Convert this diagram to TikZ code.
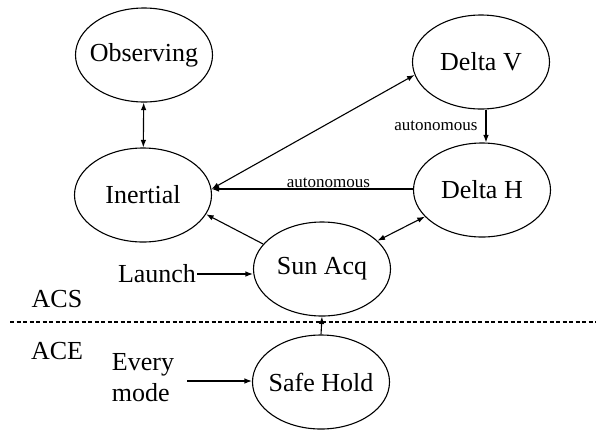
\documentclass[tikz,border=0pt]{standalone}
\usepackage{fontspec}
\setmainfont{Liberation Serif}
\usetikzlibrary{shapes.geometric,arrows.meta}
\begin{document}
\begin{tikzpicture}[x=1pt,y=-1pt,
  state/.style={ellipse, draw, line width=1.1pt, minimum width=137pt, minimum height=94pt, inner sep=0pt,
    font=\fontsize{26}{30}\selectfont},
  conn/.style={line width=1.1pt, -{Latex[length=7.5pt,width=5.5pt]}},
  dconn/.style={line width=1.1pt, {Latex[length=7.5pt,width=5.5pt]}-{Latex[length=7.5pt,width=5.5pt]}},
  lbl/.style={font=\fontsize{26}{31}\selectfont, inner sep=1pt},
  small/.style={font=\fontsize{17}{18}\selectfont, inner sep=1pt}]
\useasboundingbox (0,0) rectangle (596,429);
\node[state] (obs) at (144,55) {\makebox[0pt]{Observing}};
\node[state] (inertial) at (143,195) {\makebox[0pt]{Inertial}};
\node[state] (deltav) at (481,62) {\makebox[0pt]{Delta V}};
\node[state] (deltah) at (482,190) {\makebox[0pt]{Delta H}};
\node[state] (sunacq) at (322,269) {\makebox[0pt]{Sun Acq}};
\node[state] (safehold) at (321,382) {\makebox[0pt]{Safe Hold}};
\node[lbl] (launch) at (157,274) {Launch};
\node[lbl, align=left, inner sep=0pt] (every) at (143,378) {Every\\mode};
\node[lbl] (acs) at (57,299) {ACS};
\node[lbl] (ace) at (57,351) {ACE};
\coordinate (dl) at (10,322);
\coordinate (dr) at (596,322);
\draw[line width=1.2pt, dash pattern=on 4pt off 2.5pt] (dl) -- (dr);
% connectors
\draw[dconn] (obs) -- (inertial);
\coordinate (ie) at (inertial.5);
\draw[dconn] (ie) -- (deltav.191);
\draw[conn] (deltah.west |- ie) -- node[small, above, pos=0.42] {autonomous} (ie);
\draw[conn] ([xshift=5pt]deltav.south) -- node[small, left=7pt] {autonomous} ([xshift=5pt]deltav.south |- deltah.north);
\draw[conn] (sunacq.157) -- (inertial.-17);
\draw[dconn] (sunacq.27) -- (deltah.205);
\draw[conn] (safehold.north) -- (sunacq.south);
\draw[conn] (launch.east) -- (launch.east -| sunacq.west);
\draw[conn] ([xshift=13pt,yshift=-3pt]every.east) -- ([yshift=-3pt]every.east -| safehold.west);
\end{tikzpicture}
\end{document}
